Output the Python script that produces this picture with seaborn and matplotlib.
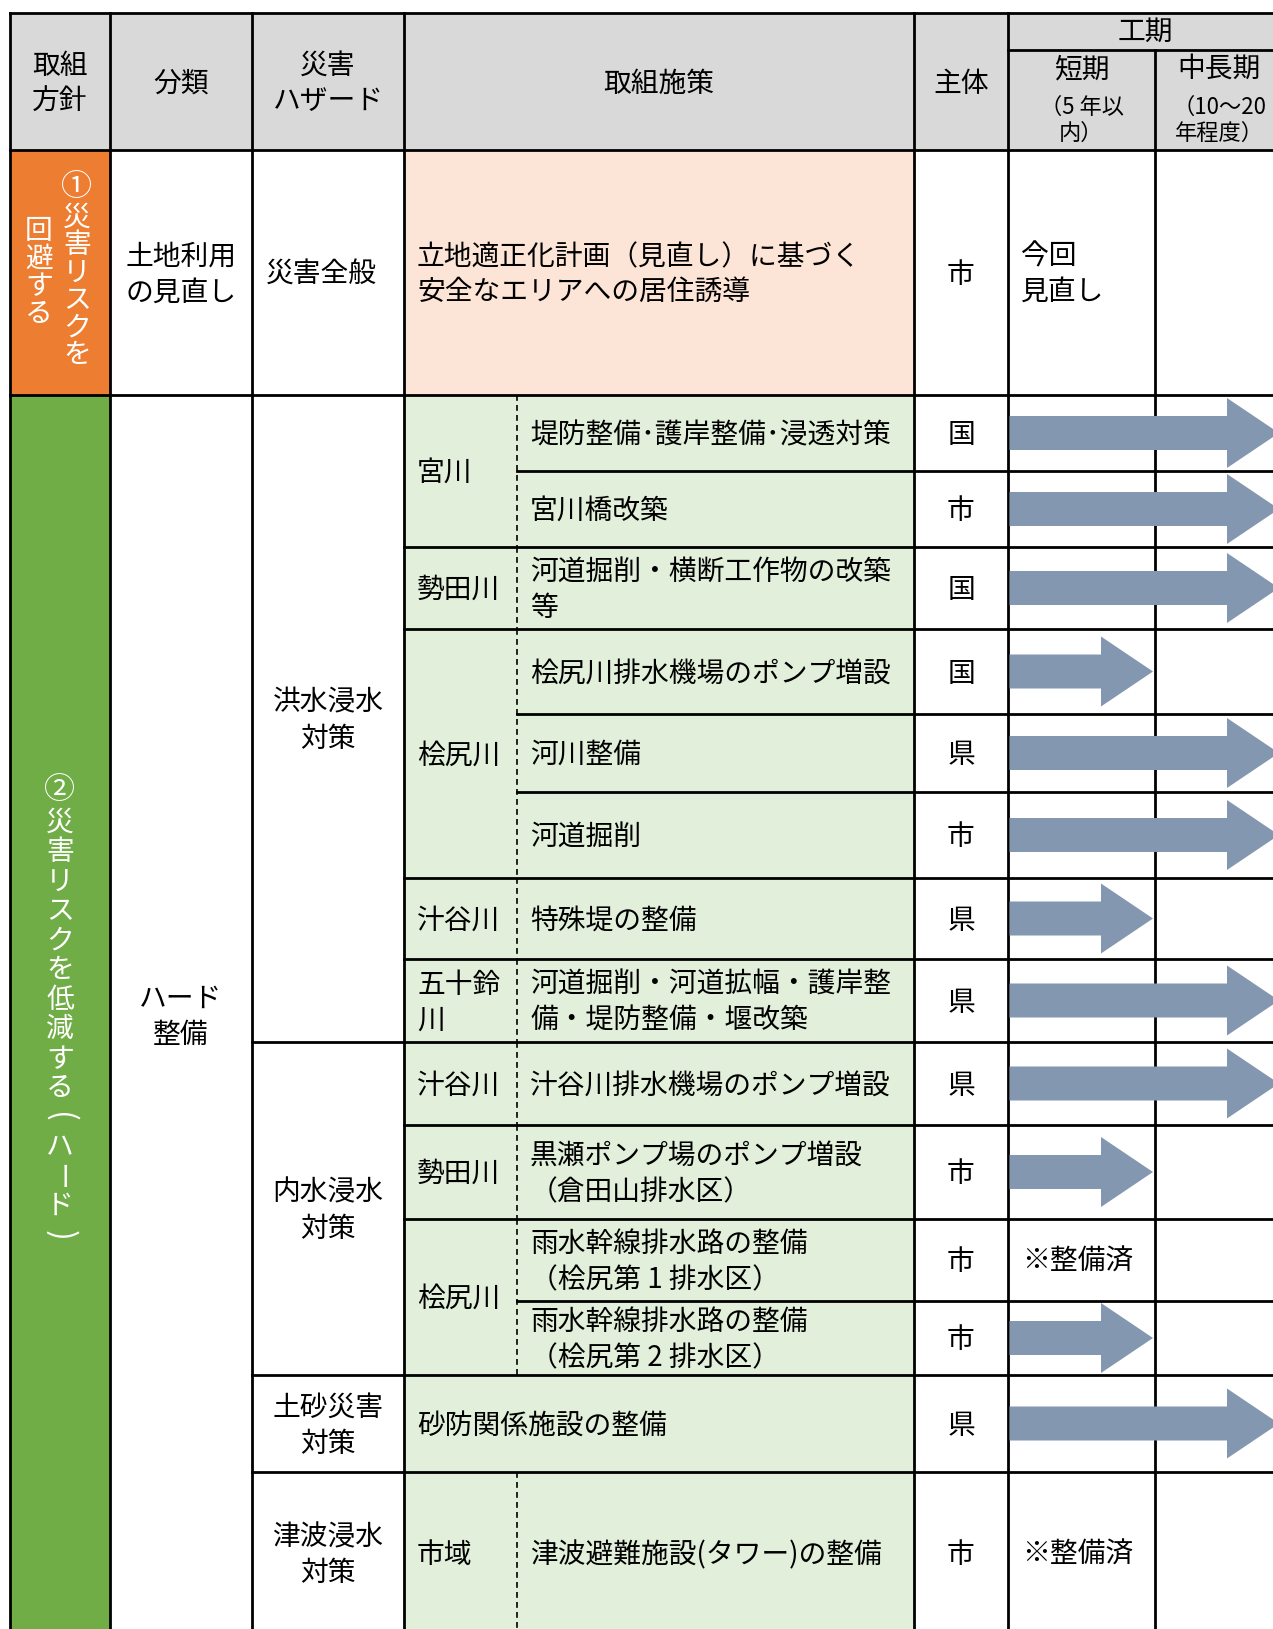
import matplotlib
matplotlib.use("Agg")
import matplotlib.pyplot as plt
from matplotlib.patches import Rectangle, Polygon
import seaborn as sns

# -------------------- #
# Table contents
# -------------------- #
header_labels = ["取組\n方針", "分類", "災害\nハザード", "取組施策", "主体"]
period_header = "工期"
period_labels = ["短期", "中長期"]
period_notes = ["（5 年以\n内）", "（10～20\n年程度）"]

# policy 1 is written vertically in two columns (right column first)
policy_1 = ["①災害リスクを", "回避する"]
policy_2 = "②災害リスクを低減する(ハード)"

row1_category = "土地利用\nの見直し"
row1_hazard = "災害全般"
row1_measure = "立地適正化計画（見直し）に基づく\n安全なエリアへの居住誘導"
row1_actor = "市"
row1_period = "今回\n見直し"

category_2 = "ハード\n整備"
hazards = ["洪水浸水\n対策", "内水浸水\n対策", "土砂災害\n対策", "津波浸水\n対策"]
hazard_rows = [(0, 7), (8, 11), (12, 12), (13, 13)]
rivers = ["宮川", "勢田川", "桧尻川", "汁谷川", "五十鈴\n川", "汁谷川", "勢田川", "桧尻川", "市域"]
river_rows = [(0, 1), (2, 2), (3, 5), (6, 6), (7, 7), (8, 8), (9, 9), (10, 11), (13, 13)]
measures = [
    "堤防整備･護岸整備･浸透対策",
    "宮川橋改築",
    "河道掘削・横断工作物の改築\n等",
    "桧尻川排水機場のポンプ増設",
    "河川整備",
    "河道掘削",
    "特殊堤の整備",
    "河道掘削・河道拡幅・護岸整\n備・堤防整備・堰改築",
    "汁谷川排水機場のポンプ増設",
    "黒瀬ポンプ場のポンプ増設\n（倉田山排水区）",
    "雨水幹線排水路の整備\n（桧尻第 1 排水区）",
    "雨水幹線排水路の整備\n（桧尻第 2 排水区）",
    "砂防関係施設の整備",
    "津波避難施設(タワー)の整備",
]
actors = ["国", "市", "国", "国", "県", "市", "県", "県", "県", "市", "市", "市", "県", "市"]
periods = ["中長期", "中長期", "中長期", "短期", "中長期", "中長期", "短期",
           "中長期", "中長期", "短期", "整備済", "短期", "中長期", "整備済"]
done_label = "※整備済"

# -------------------- #
# Layout (pixels)
# -------------------- #
col_x = [10, 110, 252, 404, 517, 914, 1008, 1155, 1283]
head_top, head_mid, head_bot = 13, 50, 150
row0_bot = 395
row_y = [395, 471, 547, 629, 714, 792, 878, 959, 1042, 1125, 1219, 1301, 1375, 1472, 1634]

c_head = "#D9D9D9"
c_orange = "#ED7D31"
c_green = "#70AD47"
c_peach = "#FCE4D6"
c_light = "#E2EFDA"
c_arrow = "#8497B0"
lw = 2.0
dy = 2

sns.set_theme(style="white")
plt.rcParams['font.family'] = ['Noto Sans CJK JP', 'DejaVu Sans']

fig = plt.figure(figsize=(12.73, 16.29), dpi=100)
ax = fig.add_axes([0, 0, 1, 1])
ax.set_xlim(0, 1273)
ax.set_ylim(1629, 0)
ax.axis("off")


def fill(x0, x1, y0, y1, color):
    ax.add_patch(Rectangle((x0, y0), x1 - x0, y1 - y0, facecolor=color, edgecolor="none", zorder=0))


def hline(y, x0, x1=col_x[-1]):
    ax.plot([x0, x1], [y, y], color="black", lw=lw, solid_capstyle="projecting", zorder=3)


def vline(x, y0, y1, dashed=False):
    if dashed:
        ax.plot([x, x], [y0, y1], color="black", lw=1.2, ls=(0, (3.5, 2.5)), zorder=3)
    else:
        ax.plot([x, x], [y0, y1], color="black", lw=lw, solid_capstyle="projecting", zorder=3)


def put(x, y, s, size=20, ha="center", color="black", gap=36):
    lines = s.split("\n")
    n = len(lines)
    for i, line in enumerate(lines):
        ax.text(x, y + dy + (i - (n - 1) / 2) * gap, line, ha=ha, va="center",
                fontsize=size, color=color, zorder=5)


def put_vertical(x, y, s, pitch, size=20, color="white"):
    # vertical writing: one glyph per step, brackets and long vowel mark turned
    n = len(s)
    for i, ch in enumerate(s):
        rot = -90 if ch in "()ー" else 0
        fs, off = size, 0
        if ch in "①②":
            fs, off = size * 1.12, -3
        elif ch in "()":
            fs = size * 1.15
        ax.text(x, y + off + (i - (n - 1) / 2) * pitch, ch, ha="center", va="center",
                fontsize=fs, color=color, rotation=rot, rotation_mode="anchor", zorder=5)


def arrow(y, x1, x0=1009.5, shaft=17, head=35, hl=52):
    pts = [(x0, y - shaft), (x1 - hl, y - shaft), (x1 - hl, y - head), (x1, y),
           (x1 - hl, y + head), (x1 - hl, y + shaft), (x0, y + shaft)]
    ax.add_patch(Polygon(pts, closed=True, facecolor=c_arrow, edgecolor="none", zorder=4))


bottom = row_y[-1]

# -------------------- #
# Cell fills
# -------------------- #
fill(col_x[0], col_x[-1], head_top, head_bot, c_head)
fill(col_x[0], col_x[1], head_bot, row0_bot, c_orange)
fill(col_x[0], col_x[1], row0_bot, bottom, c_green)
fill(col_x[3], col_x[5], head_bot, row0_bot, c_peach)
fill(col_x[3], col_x[5], row0_bot, bottom, c_light)

# -------------------- #
# Grid lines
# -------------------- #
hline(head_top, col_x[0])
hline(head_mid, col_x[6])
hline(head_bot, col_x[0])
hline(row0_bot, col_x[0])
for x in [col_x[0], col_x[1], col_x[2], col_x[3], col_x[5], col_x[6]]:
    vline(x, head_top, bottom)
vline(col_x[7], head_mid, bottom)

hazard_starts = {a for a, b in hazard_rows}
river_starts = {a for a, b in river_rows}
for i in range(1, len(measures)):
    y = row_y[i]
    if i in hazard_starts:
        hline(y, col_x[2])
    elif i in river_starts:
        hline(y, col_x[3])
    else:
        hline(y, col_x[4])

for a, b in river_rows:
    vline(col_x[4], row_y[a], row_y[b + 1], dashed=True)

# -------------------- #
# Header text
# -------------------- #
hy = (head_top + head_bot) / 2
header_x = [(col_x[0] + col_x[1]) / 2, (col_x[1] + col_x[2]) / 2, (col_x[2] + col_x[3]) / 2,
            (col_x[3] + col_x[5]) / 2, (col_x[5] + col_x[6]) / 2]
for hx, lab in zip(header_x, header_labels):
    put(hx, hy, lab)
put((col_x[6] + col_x[8]) / 2, 30, period_header)
for k in range(2):
    cx = (col_x[6 + k] + col_x[7 + k]) / 2
    put(cx, 67, period_labels[k])
    put(cx, 118, period_notes[k], size=16, gap=26)

# -------------------- #
# Section 1
# -------------------- #
r0c = (head_bot + row0_bot) / 2
put_vertical(77, r0c, policy_1[0], 27.5)
put_vertical(39, r0c, policy_1[1], 27.5)
put((col_x[1] + col_x[2]) / 2, r0c, row1_category)
put(col_x[2] + 14, r0c, row1_hazard, ha="left")
put(col_x[3] + 13, r0c, row1_measure, ha="left", gap=35)
put((col_x[5] + col_x[6]) / 2, r0c, row1_actor)
put(col_x[6] + 13, r0c, row1_period, ha="left", gap=35)

# -------------------- #
# Section 2
# -------------------- #
mid2 = (row0_bot + bottom) / 2
put_vertical((col_x[0] + col_x[1]) / 2, mid2, policy_2, 29.5)
put((col_x[1] + col_x[2]) / 2, mid2, category_2)

for name, (a, b) in zip(hazards, hazard_rows):
    put((col_x[2] + col_x[3]) / 2, (row_y[a] + row_y[b + 1]) / 2, name)

for name, (a, b) in zip(rivers, river_rows):
    put(col_x[3] + 13, (row_y[a] + row_y[b + 1]) / 2, name, ha="left")

for i, (m, act, per) in enumerate(zip(measures, actors, periods)):
    cy = (row_y[i] + row_y[i + 1]) / 2
    has_river = any(a <= i <= b for a, b in river_rows)
    mx = col_x[4] + 13 if has_river else col_x[3] + 13
    put(mx, cy, m, ha="left")
    put((col_x[5] + col_x[6]) / 2, cy, act)
    if per == "短期":
        arrow(cy, col_x[7] - 2)
    elif per == "中長期":
        arrow(cy, 1279)
    else:
        put(col_x[6] + 14, cy, done_label, ha="left")

fig.savefig("out.png", dpi=100)
